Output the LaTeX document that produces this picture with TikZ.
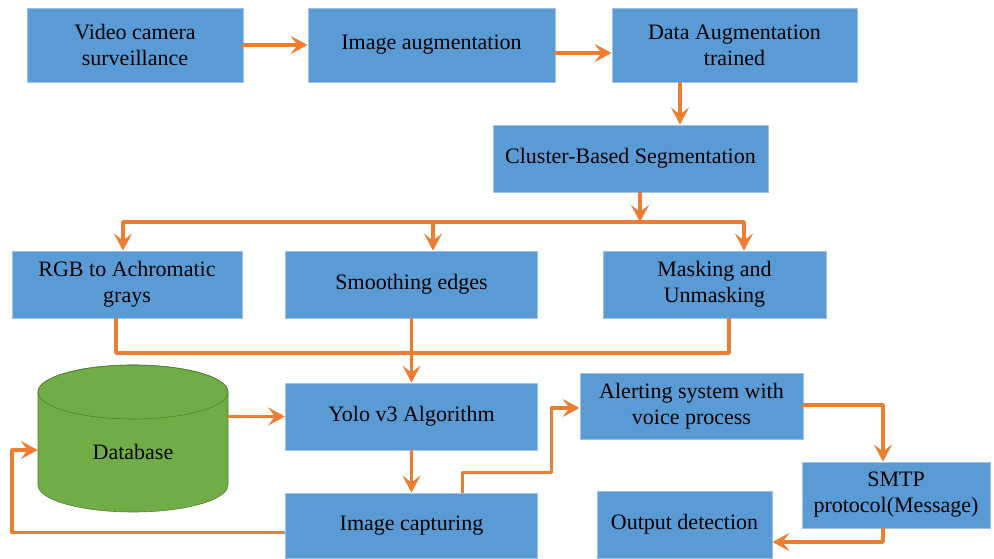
\documentclass[tikz,border=0pt]{standalone}
\usepackage{fontspec}
\setmainfont{Liberation Serif}
\usetikzlibrary{arrows.meta,calc}
\definecolor{boxblue}{HTML}{5B9BD5}
\definecolor{arrorange}{HTML}{ED7D31}
\definecolor{dbgreen}{HTML}{70AD47}
\definecolor{dbedge}{HTML}{507E32}
\tikzset{
  box/.style={rectangle, fill=boxblue, draw=boxblue!60!white, line width=0.8pt, inner sep=0pt,
    align=center, font=\fontsize{22}{26}\selectfont, text=black},
  link/.style={draw=arrorange, line width=3.5pt, line join=round},
  arr/.style={link, -{Stealth[length=17pt,width=18pt,inset=7pt]}},
}
\begin{document}
\begin{tikzpicture}[x=1pt,y=-1pt]
\useasboundingbox (0,0) rectangle (994,559);
% boxes
\node[box, minimum width=216pt, minimum height=74pt] (vid) at (135,45) {Video camera\\surveillance};
\node[box, minimum width=247pt, minimum height=74pt] (iaug) at (431.5,45) {Image augmentation};
\node[box, minimum width=245pt, minimum height=74pt] (daug) at (734.5,45) {Data Augmentation\\trained};
\node[box, minimum width=275pt, minimum height=67pt] (clus) at (630.5,158.5) {Cluster-Based Segmentation};
\node[box, minimum width=230pt, minimum height=67pt] (rgb) at (127,284.5) {RGB to Achromatic\\grays};
\node[box, minimum width=252pt, minimum height=67pt] (smooth) at (411.5,284.5) {Smoothing edges};
\node[box, minimum width=223pt, minimum height=67pt] (mask) at (714.5,284.5) {Masking and\\Unmasking};
\node[box, minimum width=252pt, minimum height=67pt] (yolo) at (411.5,416.5) {Yolo v3 Algorithm};
\node[box, minimum width=252pt, minimum height=65pt] (icap) at (411.5,525.5) {Image capturing};
\node[box, minimum width=223pt, minimum height=66pt] (alert) at (691.5,406) {Alerting system with\\voice process};
\node[box, minimum width=188pt, minimum height=66pt] (smtp) at (896,495) {SMTP\\protocol(Message)};
\node[box, minimum width=175pt, minimum height=67pt] (outd) at (684.5,524.5) {Output detection};
% database cylinder
\node[minimum width=190pt, minimum height=147pt, inner sep=0pt] (db) at (133,438.5) {};
\filldraw[fill=dbgreen, draw=dbedge, line width=0.6pt]
  (38,392) -- (38,485) arc[start angle=180, end angle=0, x radius=95, y radius=27]
  -- (228,392) arc[start angle=0, end angle=-180, x radius=95, y radius=27] -- cycle;
\draw[dbedge, line width=0.6pt] (133,392) ellipse[x radius=95, y radius=27];
\node[font=\fontsize{22}{26}\selectfont] at (133,452) {Database};
% connectors
\draw[arr] (vid.east) -- (iaug.west);
\draw[arr] ([yshift=-8pt]iaug.east) -- ([yshift=-8pt]daug.west);
\draw[arr] ([xshift=-54.5pt]daug.south) -- ([xshift=-54.5pt]daug.south |- clus.north);
\coordinate (br) at (640,222);
\draw[arr] ([xshift=9.5pt]clus.south) -- (br);
\draw[arr] (br) -| ([xshift=-4pt]rgb.north);
\draw[arr] (br) -| ([xshift=21.5pt]smooth.north);
\draw[arr] (br) -| ([xshift=29.5pt]mask.north);
\coordinate (mg) at (411.5,353);
\draw[link] ([xshift=-11pt]rgb.south) |- (mg);
\draw[link] ([xshift=14.5pt]mask.south) |- (mg);
\draw[arr] (smooth.south) -- (yolo.north);
\draw[arr] (db.east |- yolo.west) -- (yolo.west);
\draw[arr] (yolo.south) -- (icap.north);
\draw[arr] ([yshift=-7pt]icap.west) -| ([xshift=-26pt,yshift=-11.5pt]db.west) -- ([yshift=-11.5pt]db.west);
\draw[arr] ([xshift=51pt]icap.north) -- ++(0,-20) -| ([xshift=-28pt,yshift=-2pt]alert.west) -- ([yshift=-2pt]alert.west);
\draw[arr] ([yshift=1pt]alert.east) -| ([xshift=-13pt]smtp.north);
\draw[arr] ([xshift=-13pt]smtp.south) |- ([yshift=-17.5pt]outd.east);
\end{tikzpicture}
\end{document}
